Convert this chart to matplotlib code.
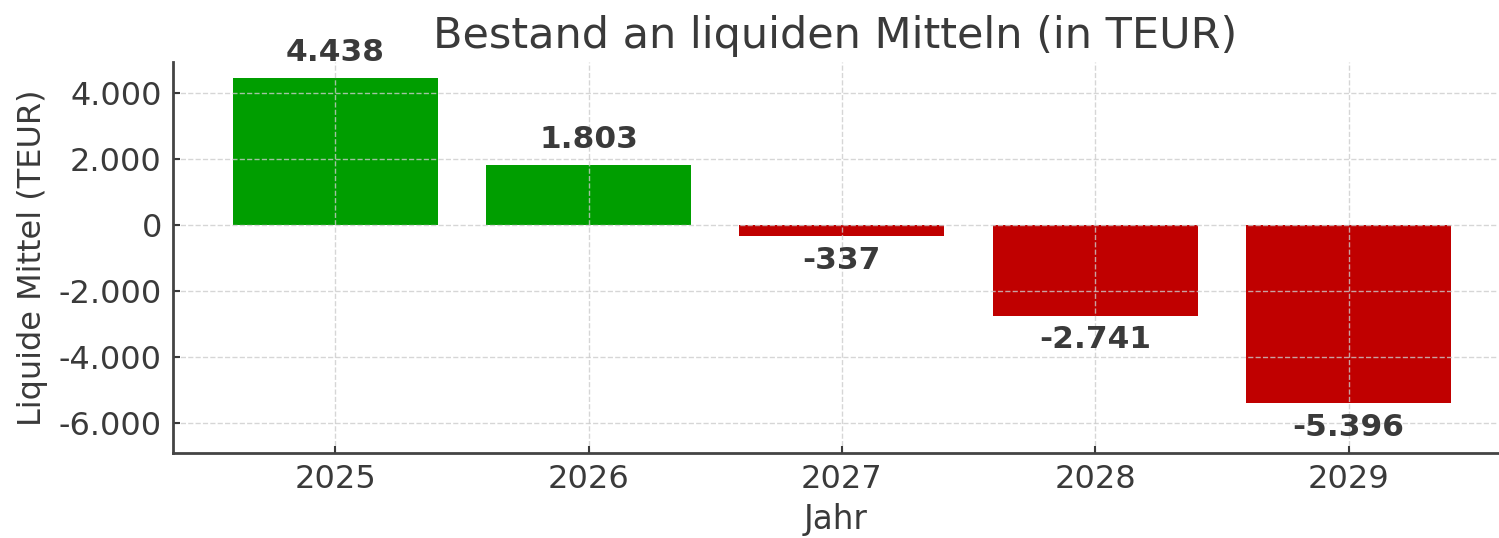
import numpy as np
import matplotlib
matplotlib.use('Agg')
import matplotlib.pyplot as plt
from matplotlib.ticker import FuncFormatter

# ============================
# Data
# ============================
jahre = ['2025', '2026', '2027', '2028', '2029']
liquide_mittel = [4438, 1803, -337, -2741, -5396]

y_ticks = [-6000, -4000, -2000, 0, 2000, 4000]

text_color = '#3a3a3a'
green = '#009e00'
red = '#c00000'


def de_format(v):
    # German thousands separator, plain hyphen minus
    s = f'{abs(int(round(v))):,}'.replace(',', '.')
    return ('-' if v < 0 else '') + s


# ============================
# Plot
# ============================
plt.rcParams['font.family'] = 'DejaVu Sans'
fig = plt.figure(figsize=(14.99, 5.38), dpi=100)
ax = fig.add_axes([0.1154, 0.158, 0.884, 0.727])

x = np.arange(len(jahre))
colors = [green if v >= 0 else red for v in liquide_mittel]
bars = ax.bar(x, liquide_mittel, width=0.81, color=colors)

# value labels above / below the bars
for xi, v in zip(x, liquide_mittel):
    if v >= 0:
        ax.annotate(de_format(v), (xi, v), xytext=(0, 8), textcoords='offset points',
                    ha='center', va='bottom', fontsize=22.5, fontweight='bold', color=text_color)
    else:
        ax.annotate(de_format(v), (xi, v), xytext=(0, -7), textcoords='offset points',
                    ha='center', va='top', fontsize=22.5, fontweight='bold', color=text_color)

ax.set_xticks(x)
ax.set_xticklabels(jahre)
ax.set_yticks(y_ticks)
ax.yaxis.set_major_formatter(FuncFormatter(lambda v, p: de_format(v)))
ax.set_xlim(-0.64, 4.59)
ax.set_ylim(-6900, 4940)

ax.set_title('Bestand an liquiden Mitteln (in TEUR)', fontsize=31, color=text_color, pad=10)
ax.set_xlabel('Jahr', fontsize=23.5, color=text_color, labelpad=6)
ax.set_ylabel('Liquide Mittel (TEUR)', fontsize=23, color=text_color, labelpad=8)

ax.tick_params(axis='both', direction='in', labelsize=23, colors=text_color,
               length=5, width=1.5, pad=8)
for side in ['top', 'right']:
    ax.spines[side].set_visible(False)
for side in ['left', 'bottom']:
    ax.spines[side].set_color('#444444')
    ax.spines[side].set_linewidth(2)

ax.grid(True, linestyle='--', color='#cccccc', linewidth=1, alpha=0.8)

plt.savefig('out.png')
